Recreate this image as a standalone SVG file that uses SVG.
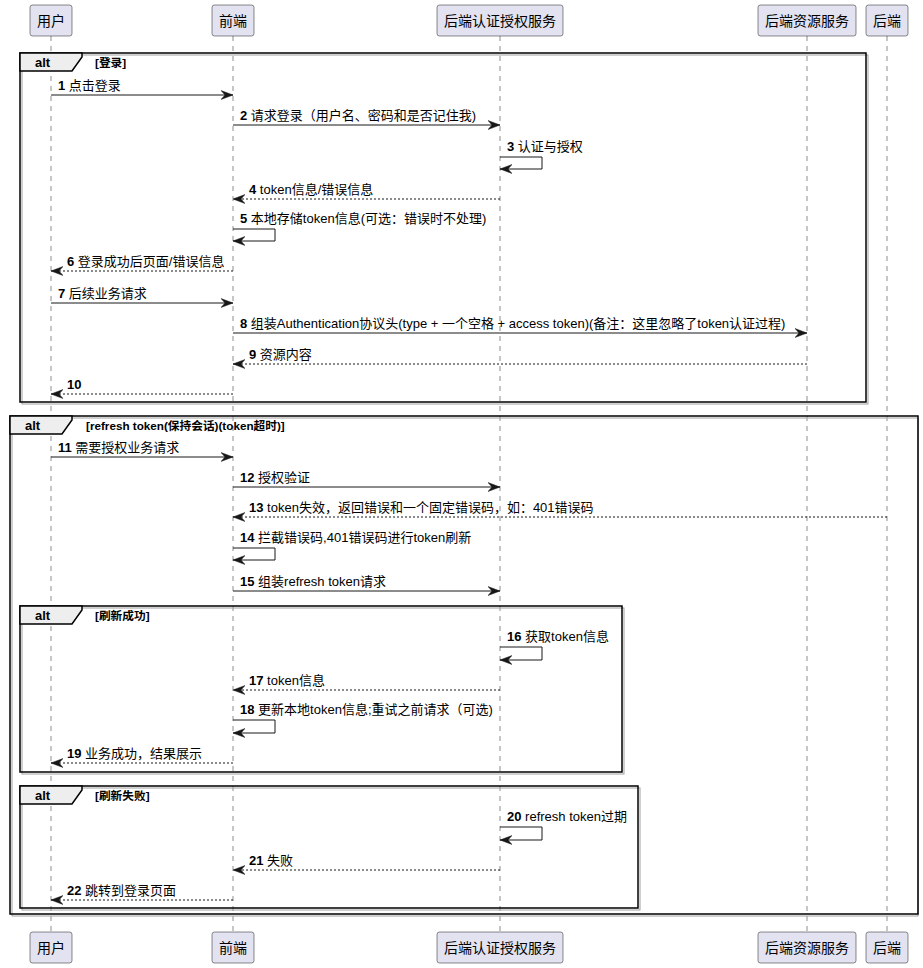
<svg xmlns="http://www.w3.org/2000/svg" width="923" height="968" viewBox="0 0 923 968">
  <style>
    text { font-family: "Liberation Sans", "Noto Sans CJK SC", sans-serif; fill: #000; }
    .pbox { fill: #E2E2F0; stroke: #181818; stroke-width: 0.5; }
    .ptxt { font-size: 14px; text-anchor: middle; }
    .life { stroke: #181818; stroke-width: 0.5; stroke-dasharray: 5,5; }
    .frame { fill: none; stroke: #000; stroke-width: 1.5; }
    .fshadow { fill: none; stroke: #a0a0a0; stroke-width: 1; }
    .tab { fill: #EEEEEE; stroke: #000; stroke-width: 1.5; }
    .kw { font-size: 13px; font-weight: bold; }
    .guard { font-size: 11.7px; font-weight: bold; }
    .msg { stroke: #181818; stroke-width: 1; fill: none; }
    .dash { stroke-dasharray: 2,2; }
    .lbl { font-size: 13px; }
    .num { font-weight: bold; }
  </style>
  <defs>
    <marker id="arrow" markerWidth="12" markerHeight="10" refX="12" refY="5" orient="auto" markerUnits="userSpaceOnUse">
      <polygon points="0,0.5 12,5 0,9.5 4,5" fill="#181818" stroke="#181818" stroke-width="0.5" stroke-linejoin="miter"/>
    </marker>
  </defs>
  <rect width="923" height="968" fill="#fff"/>

  <!-- lifelines -->
  <g id="lifelines">
    <line class="life" x1="51" y1="36" x2="51" y2="932"/>
    <line class="life" x1="233" y1="36" x2="233" y2="932"/>
    <line class="life" x1="500" y1="36" x2="500" y2="932"/>
    <line class="life" x1="807" y1="36" x2="807" y2="932"/>
    <line class="life" x1="887" y1="36" x2="887" y2="932"/>
  </g>

  <!-- combined fragments -->
  <g id="alt-login">
    <rect class="fshadow" x="22" y="55" width="846" height="349"/>
    <rect class="frame" x="20" y="53" width="846" height="349"/>
    <polygon class="tab" points="20,53 82,53 82,57 72,71 20,71"/>
    <text class="kw" x="35" y="67">alt</text>
    <text class="guard" x="95" y="67">[登录]</text>
  </g>
  <g id="alt-refresh">
    <rect class="fshadow" x="12" y="418" width="906" height="498"/>
    <rect class="frame" x="10" y="416" width="908" height="498"/>
    <polygon class="tab" points="10,416 72,416 72,420 62,434 10,434"/>
    <text class="kw" x="25" y="430">alt</text>
    <text class="guard" x="86" y="430">[refresh token(保持会话)(token超时)]</text>
  </g>
  <g id="alt-success">
    <rect class="fshadow" x="22" y="608" width="602" height="166"/>
    <rect class="frame" x="20" y="606" width="602" height="166"/>
    <polygon class="tab" points="20,606 82,606 82,610 72,624 20,624"/>
    <text class="kw" x="35" y="620">alt</text>
    <text class="guard" x="95" y="620">[刷新成功]</text>
  </g>
  <g id="alt-failure">
    <rect class="fshadow" x="22" y="788" width="618" height="122"/>
    <rect class="frame" x="20" y="786" width="618" height="122"/>
    <polygon class="tab" points="20,786 82,786 82,790 72,804 20,804"/>
    <text class="kw" x="35" y="800">alt</text>
    <text class="guard" x="95" y="800">[刷新失败]</text>
  </g>

  <!-- messages -->
  <g id="connectors">
    <line class="msg" x1="51" y1="95" x2="233" y2="95" marker-end="url(#arrow)"/>
    <line class="msg" x1="233" y1="125" x2="500" y2="125" marker-end="url(#arrow)"/>
    <polyline class="msg" points="500,157 542,157 542,169 500,169" marker-end="url(#arrow)"/>
    <line class="msg dash" x1="500" y1="199" x2="233" y2="199" marker-end="url(#arrow)"/>
    <polyline class="msg" points="233,229 275,229 275,241 233,241" marker-end="url(#arrow)"/>
    <line class="msg dash" x1="233" y1="271" x2="51" y2="271" marker-end="url(#arrow)"/>
    <line class="msg" x1="51" y1="303" x2="233" y2="303" marker-end="url(#arrow)"/>
    <line class="msg" x1="233" y1="333" x2="807" y2="333" marker-end="url(#arrow)"/>
    <line class="msg dash" x1="807" y1="364" x2="233" y2="364" marker-end="url(#arrow)"/>
    <line class="msg dash" x1="233" y1="394" x2="51" y2="394" marker-end="url(#arrow)"/>
    <line class="msg" x1="51" y1="457" x2="233" y2="457" marker-end="url(#arrow)"/>
    <line class="msg" x1="233" y1="487" x2="500" y2="487" marker-end="url(#arrow)"/>
    <line class="msg dash" x1="887" y1="517" x2="233" y2="517" marker-end="url(#arrow)"/>
    <polyline class="msg" points="233,548 275,548 275,560 233,560" marker-end="url(#arrow)"/>
    <line class="msg" x1="233" y1="591" x2="500" y2="591" marker-end="url(#arrow)"/>
    <polyline class="msg" points="500,647 542,647 542,660 500,660" marker-end="url(#arrow)"/>
    <line class="msg dash" x1="500" y1="690" x2="233" y2="690" marker-end="url(#arrow)"/>
    <polyline class="msg" points="233,720 275,720 275,733 233,733" marker-end="url(#arrow)"/>
    <line class="msg dash" x1="233" y1="763" x2="51" y2="763" marker-end="url(#arrow)"/>
    <polyline class="msg" points="500,827 542,827 542,840 500,840" marker-end="url(#arrow)"/>
    <line class="msg dash" x1="500" y1="870" x2="233" y2="870" marker-end="url(#arrow)"/>
    <line class="msg dash" x1="233" y1="900" x2="51" y2="900" marker-end="url(#arrow)"/>
  </g>

  <g id="message-labels">
    <text class="lbl" x="58" y="90"><tspan class="num">1</tspan> 点击登录</text>
    <text class="lbl" x="240" y="120"><tspan class="num">2</tspan> 请求登录（用户名、密码和是否记住我)</text>
    <text class="lbl" x="507" y="151"><tspan class="num">3</tspan> 认证与授权</text>
    <text class="lbl" x="249" y="194"><tspan class="num">4</tspan> token信息/错误信息</text>
    <text class="lbl" x="240" y="223"><tspan class="num">5</tspan> 本地存储token信息(可选：错误时不处理)</text>
    <text class="lbl" x="67" y="266"><tspan class="num">6</tspan> 登录成功后页面/错误信息</text>
    <text class="lbl" x="58" y="298"><tspan class="num">7</tspan> 后续业务请求</text>
    <text class="lbl" x="240" y="328"><tspan class="num">8</tspan> 组装Authentication协议头(type + 一个空格 + access token)(备注：这里忽略了token认证过程)</text>
    <text class="lbl" x="249" y="359"><tspan class="num">9</tspan> 资源内容</text>
    <text class="lbl" x="67" y="389"><tspan class="num">10</tspan></text>
    <text class="lbl" x="58" y="452"><tspan class="num">11</tspan> 需要授权业务请求</text>
    <text class="lbl" x="240" y="482"><tspan class="num">12</tspan> 授权验证</text>
    <text class="lbl" x="249" y="512"><tspan class="num">13</tspan> token失效，返回错误和一个固定错误码，如：401错误码</text>
    <text class="lbl" x="240" y="542"><tspan class="num">14</tspan> 拦截错误码,401错误码进行token刷新</text>
    <text class="lbl" x="240" y="586"><tspan class="num">15</tspan> 组装refresh token请求</text>
    <text class="lbl" x="507" y="641"><tspan class="num">16</tspan> 获取token信息</text>
    <text class="lbl" x="249" y="685"><tspan class="num">17</tspan> token信息</text>
    <text class="lbl" x="240" y="714"><tspan class="num">18</tspan> 更新本地token信息;重试之前请求（可选)</text>
    <text class="lbl" x="67" y="758"><tspan class="num">19</tspan> 业务成功，结果展示</text>
    <text class="lbl" x="507" y="821"><tspan class="num">20</tspan> refresh token过期</text>
    <text class="lbl" x="249" y="865"><tspan class="num">21</tspan> 失败</text>
    <text class="lbl" x="67" y="895"><tspan class="num">22</tspan> 跳转到登录页面</text>
  </g>

  <!-- participants (head and foot) -->
  <g id="p-user">
    <rect class="pbox" x="30" y="5" width="42" height="31" rx="2.5"/>
    <text class="ptxt" x="51" y="26">用户</text>
    <rect class="pbox" x="30" y="932" width="42" height="31" rx="2.5"/>
    <text class="ptxt" x="51" y="953">用户</text>
  </g>
  <g id="p-frontend">
    <rect class="pbox" x="212" y="5" width="42" height="31" rx="2.5"/>
    <text class="ptxt" x="233" y="26">前端</text>
    <rect class="pbox" x="212" y="932" width="42" height="31" rx="2.5"/>
    <text class="ptxt" x="233" y="953">前端</text>
  </g>
  <g id="p-auth">
    <rect class="pbox" x="437" y="5" width="126" height="31" rx="2.5"/>
    <text class="ptxt" x="500" y="26">后端认证授权服务</text>
    <rect class="pbox" x="437" y="932" width="126" height="31" rx="2.5"/>
    <text class="ptxt" x="500" y="953">后端认证授权服务</text>
  </g>
  <g id="p-resource">
    <rect class="pbox" x="758" y="5" width="98" height="31" rx="2.5"/>
    <text class="ptxt" x="807" y="26">后端资源服务</text>
    <rect class="pbox" x="758" y="932" width="98" height="31" rx="2.5"/>
    <text class="ptxt" x="807" y="953">后端资源服务</text>
  </g>
  <g id="p-backend">
    <rect class="pbox" x="866" y="5" width="42" height="31" rx="2.5"/>
    <text class="ptxt" x="887" y="26">后端</text>
    <rect class="pbox" x="866" y="932" width="42" height="31" rx="2.5"/>
    <text class="ptxt" x="887" y="953">后端</text>
  </g>
</svg>
